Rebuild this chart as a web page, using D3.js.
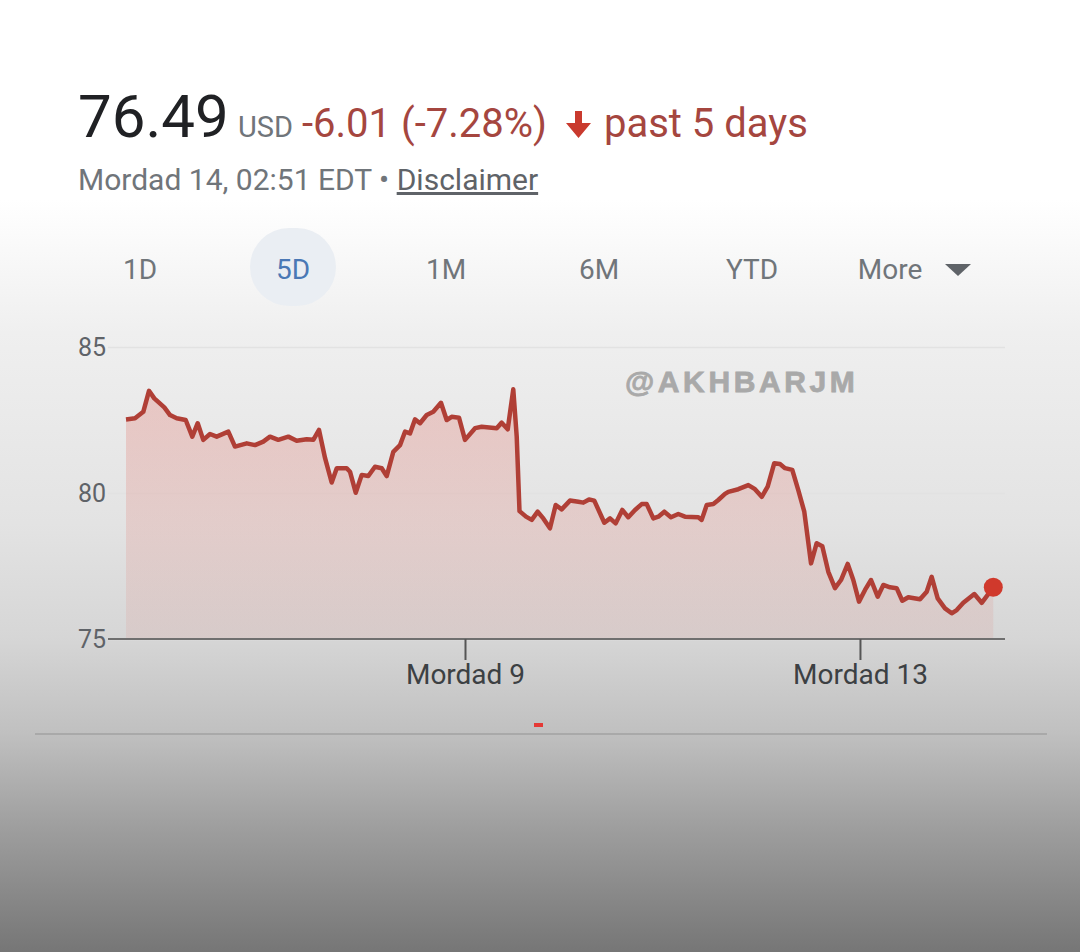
<!DOCTYPE html>
<html>
<head>
<meta charset="utf-8">
<script src="https://cdn.jsdelivr.net/npm/d3@7"></script>
<style>
  html, body { margin: 0; padding: 0; background: #fff; }
  svg { display: block; }
</style>
</head>
<body>
<div id="chart"></div>
<script>
"use strict";

// hours since start of the 5-day window
const hours = [
  0, 1.23, 2.36, 3.14, 3.86, 5.23, 6.01, 6.92, 8.15, 9.05,
  9.79, 10.55, 11.47, 12.38, 13.97, 14.88, 16.48, 17.61, 18.74, 19.66,
  20.79, 22.16, 23.3, 24.67, 25.57, 26.35, 27.17, 28.08, 28.77, 30.13,
  30.58, 31.36, 32.18, 33.08, 33.99, 34.91, 35.59, 36.49, 37.41, 38.09,
  38.77, 39.45, 40.14, 41.05, 41.95, 43.0, 43.78, 44.46, 45.46, 46.28,
  47.65, 48.56, 50.61, 51.29, 52.11, 52.87, 53.34, 53.72, 54.61, 55.39,
  56.2, 56.97, 57.88, 58.66, 59.48, 60.61, 61.75, 62.43, 63.21, 63.93,
  65.3, 66.08, 66.85, 67.75, 68.57, 69.49, 70.4, 71.09, 71.99, 72.67,
  73.49, 74.4, 75.4, 76.31, 78.13, 78.59, 79.28, 80.18, 80.86, 81.77,
  82.23, 83.59, 84.96, 85.87, 86.79, 87.6, 88.5, 89.28, 89.97, 90.96,
  91.78, 92.6, 93.52, 94.29, 95.06, 95.88, 96.79, 97.61, 98.53, 99.29,
  100.07, 100.89, 101.71, 102.62, 103.39, 104.3, 105.21, 105.98, 106.8, 108.4,
  109.31, 109.99, 110.81, 111.81, 112.72, 113.41, 114.31, 115.81, 116.82, 118.4
];

const prices = [
  82.52, 82.56, 82.78, 83.5, 83.24, 82.93, 82.67, 82.56, 82.5, 81.93,
  82.39, 81.82, 82.02, 81.93, 82.1, 81.59, 81.7, 81.64, 81.76, 81.93,
  81.82, 81.93, 81.79, 81.84, 81.82, 82.16, 81.2, 80.36, 80.85, 80.85,
  80.73, 80.01, 80.62, 80.58, 80.9, 80.85, 80.58, 81.41, 81.64, 82.1,
  82.04, 82.52, 82.39, 82.67, 82.78, 83.09, 82.5, 82.61, 82.58, 81.82,
  82.22, 82.27, 82.22, 82.41, 82.18, 83.55, 81.93, 79.38, 79.19, 79.08,
  79.36, 79.13, 78.79, 79.59, 79.44, 79.74, 79.7, 79.67, 79.78, 79.74,
  78.98, 79.13, 78.96, 79.42, 79.17, 79.42, 79.62, 79.62, 79.13, 79.19,
  79.36, 79.17, 79.28, 79.19, 79.17, 79.08, 79.59, 79.62, 79.76, 79.97,
  80.04, 80.13, 80.27, 80.13, 79.87, 80.22, 81.02, 80.99, 80.85, 80.79,
  80.1, 79.36, 77.59, 78.28, 78.18, 77.3, 76.74, 77.02, 77.57, 77.02,
  76.28, 76.68, 77.02, 76.45, 76.85, 76.77, 76.74, 76.31, 76.43, 76.36,
  76.62, 77.13, 76.39, 76.05, 75.88, 75.99, 76.24, 76.54, 76.24, 76.77
];

const yTicks = [75, 80, 85];
const xTickHours = [46.28, 100.2];
const xTickLabels = ["Mordad 9", "Mordad 13"];
const rangeTabs = ["1D", "5D", "1M", "6M", "YTD", "More"];

const W = 1080, H = 952;

const svg = d3.select("#chart").append("svg")
  .attr("width", W)
  .attr("height", H)
  .attr("viewBox", `0 0 ${W} ${H}`);

const defs = svg.append("defs");

// page background: white fading into grey toward the bottom
const bg = defs.append("linearGradient")
  .attr("id", "bg")
  .attr("x1", 0).attr("y1", 0).attr("x2", 0).attr("y2", 1);
[[0, "#ffffff"], [0.21, "#ffffff"], [0.35, "#efefef"], [0.55, "#e3e3e3"],
 [0.67, "#d6d6d6"], [0.77, "#c0c0c0"], [0.87, "#9e9e9e"], [1, "#767676"]]
  .forEach(function(s) {
    bg.append("stop").attr("offset", s[0]).attr("stop-color", s[1]);
  });

const areaGrad = defs.append("linearGradient")
  .attr("id", "areaFill")
  .attr("x1", 0).attr("y1", 0).attr("x2", 0).attr("y2", 1);
areaGrad.append("stop").attr("offset", 0).attr("stop-color", "#e0675c").attr("stop-opacity", 0.28);
areaGrad.append("stop").attr("offset", 1).attr("stop-color", "#e0675c").attr("stop-opacity", 0.1);

svg.append("rect")
  .attr("width", W)
  .attr("height", H)
  .attr("fill", "url(#bg)");

// ---- header ----
svg.append("text")
  .attr("x", 78)
  .attr("y", 137)
  .attr("font-family", "Roboto, sans-serif")
  .attr("font-size", 60)
  .attr("fill", "#202124")
  .text("76.49");

svg.append("text")
  .attr("x", 238)
  .attr("y", 137)
  .attr("font-family", "Roboto, sans-serif")
  .attr("font-size", 29)
  .attr("fill", "#70757a")
  .text("USD");

svg.append("text")
  .attr("x", 302)
  .attr("y", 137)
  .attr("font-family", "Roboto, sans-serif")
  .attr("font-size", 40)
  .attr("fill", "#a5463f")
  .text("-6.01 (-7.28%)");

// down arrow
svg.append("path")
  .attr("d", "M575 111 L582 111 L582 123 L591 123 L578.5 138 L566 123 L575 123 Z")
  .attr("fill", "#c93a2e");

svg.append("text")
  .attr("x", 604)
  .attr("y", 137)
  .attr("font-family", "Roboto, sans-serif")
  .attr("font-size", 40)
  .attr("fill", "#a5463f")
  .text("past 5 days");

const sub = svg.append("text")
  .attr("x", 78)
  .attr("y", 190)
  .attr("font-family", "Roboto, sans-serif")
  .attr("font-size", 30)
  .attr("fill", "#70757a");
sub.append("tspan").text("Mordad 14, 02:51 EDT \u2022 ");
sub.append("tspan")
  .attr("fill", "#5f6368")
  .attr("text-decoration", "underline")
  .text("Disclaimer");

// ---- range tabs ----
const tabX = d3.scalePoint().domain(rangeTabs).range([140, 905]);

svg.append("rect")
  .attr("x", 250)
  .attr("y", 228)
  .attr("width", 86)
  .attr("height", 78)
  .attr("rx", 39)
  .attr("fill", "#eaeef3");

svg.selectAll(".tab").data(rangeTabs)
  .enter()
  .append("text")
  .attr("class", "tab")
  .attr("x", function(d) { return d === "More" ? tabX(d) - 15 : tabX(d); })
  .attr("y", 279)
  .attr("text-anchor", "middle")
  .attr("font-family", "Roboto, sans-serif")
  .attr("font-size", 28)
  .attr("fill", function(d) { return d === "5D" ? "#4a78b5" : "#70757a"; })
  .text(function(d) { return d; });

svg.append("path")
  .attr("d", "M945 264 L971 264 L958 276 Z")
  .attr("fill", "#5f6368");

// ---- chart ----
const plotLeft = 108, plotRight = 1005;

const x = d3.scaleLinear().domain([0, 120]).range([126, 1005]);
const y = d3.scaleLinear().domain([75, 85]).range([639, 347]);

const points = hours.map(function(h, i) { return { h: h, v: prices[i] }; });

// grid + y labels
const yAxis = svg.append("g")
  .attr("transform", `translate(${plotLeft},0)`)
  .call(d3.axisLeft(y)
    .tickValues(yTicks)
    .tickSize(-(plotRight - plotLeft))
    .tickPadding(2));
yAxis.select(".domain").remove();
yAxis.selectAll(".tick line")
  .attr("stroke", "#e2e2e2")
  .attr("stroke-width", 1.5);
yAxis.selectAll(".tick text")
  .attr("font-family", "Roboto, sans-serif")
  .attr("font-size", 25)
  .attr("fill", "#5f6368");

// watermark
svg.append("text")
  .attr("x", 625)
  .attr("y", 392)
  .attr("font-family", "'Liberation Sans', Arial, sans-serif")
  .attr("font-weight", "bold")
  .attr("font-size", 30)
  .attr("letter-spacing", 3.6)
  .attr("fill", "#a9a9a9")
  .attr("stroke", "#a9a9a9")
  .attr("stroke-width", 0.8)
  .text("@AKHBARJM");

const area = d3.area()
  .x(function(d) { return x(d.h); })
  .y0(y(75))
  .y1(function(d) { return y(d.v); });

const line = d3.line()
  .x(function(d) { return x(d.h); })
  .y(function(d) { return y(d.v); });

svg.append("path")
  .datum(points)
  .attr("d", area)
  .attr("fill", "url(#areaFill)");

svg.append("path")
  .datum(points)
  .attr("d", line)
  .attr("fill", "none")
  .attr("stroke", "#b03f36")
  .attr("stroke-width", 4.5)
  .attr("stroke-linejoin", "round");

const last = points[points.length - 1];
svg.append("circle")
  .attr("cx", x(last.h))
  .attr("cy", y(last.v))
  .attr("r", 9.5)
  .attr("fill", "#d0392c");

// x axis
svg.append("line")
  .attr("x1", plotLeft)
  .attr("x2", plotRight)
  .attr("y1", y(75))
  .attr("y2", y(75))
  .attr("stroke", "#6f6f6f")
  .attr("stroke-width", 2);

const xAxis = svg.append("g")
  .attr("transform", `translate(0,${y(75)})`)
  .call(d3.axisBottom(x)
    .tickValues(xTickHours)
    .tickSize(21)
    .tickPadding(4)
    .tickFormat(function(d, i) { return xTickLabels[i]; }));
xAxis.select(".domain").remove();
xAxis.selectAll(".tick line")
  .attr("stroke", "#555")
  .attr("stroke-width", 2);
xAxis.selectAll(".tick text")
  .attr("font-family", "Roboto, sans-serif")
  .attr("font-size", 28)
  .attr("fill", "#3c4043");

// small red marker and separator
svg.append("rect")
  .attr("x", 534)
  .attr("y", 723)
  .attr("width", 9)
  .attr("height", 4)
  .attr("fill", "#e53935");

svg.append("line")
  .attr("x1", 35)
  .attr("x2", 1047)
  .attr("y1", 734)
  .attr("y2", 734)
  .attr("stroke", "#a2a2a2")
  .attr("stroke-width", 1.5);
</script>
</body>
</html>
